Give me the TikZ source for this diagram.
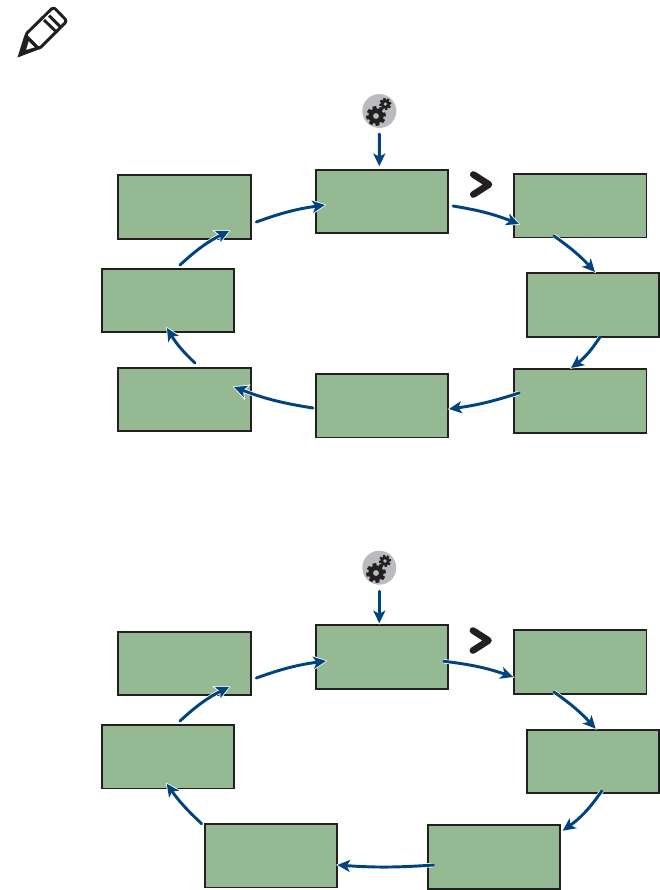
\documentclass[tikz,border=0pt]{standalone}
\usetikzlibrary{arrows.meta,calc}
\definecolor{lcdgreen}{HTML}{95B993}
\definecolor{inkblack}{HTML}{231F20}
\definecolor{flowblue}{HTML}{00447F}
\definecolor{iconbg}{HTML}{B9BBBE}
\tikzset{
  lcd/.style={draw=inkblack,fill=lcdgreen,line width=1.4pt,minimum width=99.2pt,minimum height=47.4pt,inner sep=0pt,outer sep=0pt},
  iconbase/.style={circle,fill=iconbg,minimum size=25.5pt,inner sep=0pt,outer sep=0pt},
  flow/.style={draw=flowblue,line width=2.2pt,line cap=round,bend left=#1,-{Stealth[length=9.5pt,width=9pt,inset=2.4pt]},
    preaction={draw=white,line width=3.3pt,shorten >=-1.1pt,-{Stealth[length=12pt,width=12pt,inset=2.8pt]}}},
  flow/.default=12,
  chev/.style={draw=inkblack,line width=5pt,line cap=round,line join=round},
  pen/.style={draw=inkblack,line width=2.2pt,line join=round}
}
\newcommand{\cog}[3]{%
  \fill[inkblack] (#1) circle (#2*0.78);
  \foreach \a in {0,45,...,315}{
    \fill[inkblack,shift={(#1)},rotate=\a+10] (-#2*0.2,-#2*0.2) rectangle (#2*0.2,#2*-1);
  }
  \fill[#3] (#1) circle (#2*0.3);
}
\begin{document}
\begin{tikzpicture}[x=0.75pt,y=-0.75pt]
\useasboundingbox (0,0) rectangle (660,890);
% pencil
\draw[pen,rounded corners=2pt] (25,35) -- (53.5,7) -- (67,21) -- (39,49) -- cycle;
\draw[pen] (26.5,36.5) -- (38.5,49);
\draw[pen] (44,20) -- (57,32.5);
\draw[pen] (49,15.5) -- (61,27.5);
\fill[inkblack] (17.5,57.5) -- (24.5,35) -- (29,40) -- (26,50) -- (36,47) -- (40,49) -- cycle;
% upper diagram
\node[lcd] (A) at (381.7,201.2) {};
\node[lcd] (B) at (580.3,205.9) {};
\node[lcd] (C) at (592.7,305) {};
\node[lcd] (D) at (580.3,401) {};
\node[lcd] (E) at (381.7,405.9) {};
\node[lcd] (F) at (184.5,399.7) {};
\node[lcd] (G) at (168,300.7) {};
\node[lcd] (H) at (184.5,207) {};
\node[iconbase] (T) at (379.3,111) {};
\cog{376,116}{9.8}{iconbg}
\cog{385.3,104}{6}{iconbg}
\draw[chev] (473.3,174.5) -- (489,184.5) -- (473.3,194.5);
\draw[flow=0] ($(T)+(0,23)$) to ($(A)+(-2.4,-35)$);
\draw[flow=6] ($(H)+(71.8,15)$) to ($(A)+(-56.7,3.8)$);
\draw[flow=6] ($(A)+(71.3,4.8)$) to ($(B)+(-61.3,18.1)$);
\draw[flow=6] ($(B)+(-26.3,30.1)$) to ($(C)+(2.3,-33)$);
\draw[flow=10] ($(C)+(7.3,32)$) to ($(D)+(-9.3,-33)$);
\draw[flow=5] ($(D)+(-61.3,-8)$) to ($(E)+(67.3,3.1)$);
\draw[flow=6] ($(E)+(-68.7,2.1)$) to ($(F)+(49.5,-12.7)$);
\draw[flow=8] ($(F)+(10.5,-36.7)$) to ($(G)+(-1,27.3)$);
\draw[flow=8] ($(G)+(12,-35.7)$) to ($(H)+(44.5,24)$);
% lower diagram
\node[lcd] (A2) at (381.8,657) {};
\node[lcd] (B2) at (580.3,662) {};
\node[lcd] (C2) at (592.7,761.3) {};
\node[lcd] (D2) at (493.7,857) {};
\node[lcd] (E2) at (270.7,855.9) {};
\node[lcd] (G2) at (168,756.9) {};
\node[lcd] (H2) at (184.5,663.3) {};
\node[iconbase] (T2) at (379.3,567.7) {};
\cog{376,573}{9.8}{iconbg}
\cog{385,561}{6}{iconbg}
\draw[chev] (472.9,630.5) -- (488.5,640.5) -- (472.9,650.5);
\draw[flow=0] ($(T2)+(0,23.6)$) to ($(A2)+(-2.5,-33.7)$);
\draw[flow=6] ($(H2)+(71.8,14.7)$) to ($(A2)+(-55.8,4)$);
\draw[flow=6] ($(A2)+(62.2,4.3)$) to ($(B2)+(-67,15)$);
\draw[flow=6] ($(B2)+(-26.3,30)$) to ($(C2)+(3,-32.6)$);
\draw[flow=10] ($(C2)+(9,29.7)$) to ($(D2)+(69,-26.3)$);
\draw[flow=4] ($(D2)+(-60.4,8)$) to ($(E2)+(66.6,9.1)$);
\draw[flow=6] ($(E2)+(-69,-32.2)$) to ($(G2)+(-1.3,26.8)$);
\draw[flow=8] ($(G2)+(12,-35.9)$) to ($(H2)+(44.5,23.7)$);
\end{tikzpicture}
\end{document}
